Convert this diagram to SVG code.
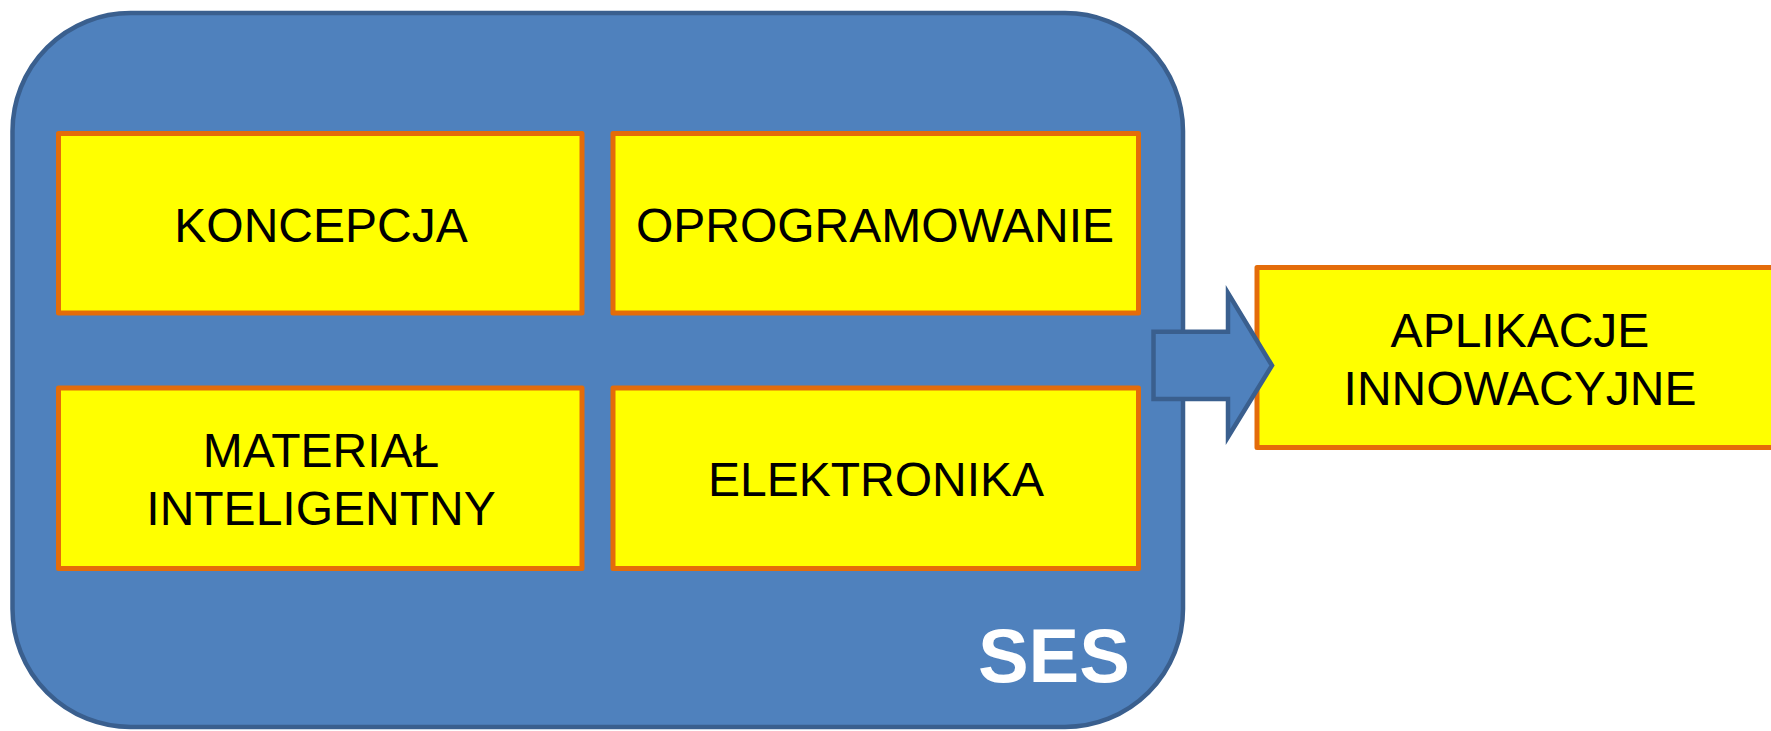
<svg xmlns="http://www.w3.org/2000/svg" width="1771" height="731" viewBox="0 0 1771 731">
  <style>
    .frame { fill: #4F81BD; stroke: #3A5F8E; stroke-width: 4.5; }
    .box { fill: #FFFF00; stroke: #E46C0A; stroke-width: 5; stroke-linejoin: round; }
    .label { font-family: "Liberation Sans", Arial, sans-serif; font-size: 48px; fill: #000000; text-anchor: middle; }
    .title { font-family: "Liberation Sans", Arial, sans-serif; font-size: 76px; font-weight: bold; fill: #FFFFFF; text-anchor: end; }
    .flow { fill: #4F81BD; stroke: #3A5F8E; stroke-width: 4.5; stroke-linejoin: miter; }
  </style>

  <!-- SES container -->
  <g id="ses">
    <rect class="frame" x="12.5" y="13" width="1170.5" height="714" rx="118" ry="118"/>
    <text class="title" x="1130" y="682">SES</text>
  </g>

  <g id="koncepcja">
    <rect class="box" x="58.5" y="133.5" width="523.5" height="179.5"/>
    <text class="label" x="321" y="242">KONCEPCJA</text>
  </g>

  <g id="oprogramowanie">
    <rect class="box" x="613" y="133.5" width="525.5" height="179.5"/>
    <text class="label" x="875" y="242">OPROGRAMOWANIE</text>
  </g>

  <g id="material">
    <rect class="box" x="58.5" y="388" width="523.5" height="180.5"/>
    <text class="label" x="321" y="467">MATERIAŁ</text>
    <text class="label" x="321" y="525">INTELIGENTNY</text>
  </g>

  <g id="elektronika">
    <rect class="box" x="613" y="388" width="525.5" height="180.5"/>
    <text class="label" x="876" y="496">ELEKTRONIKA</text>
  </g>

  <g id="aplikacje">
    <rect class="box" x="1257" y="267.5" width="540" height="180"/>
    <text class="label" x="1520" y="347">APLIKACJE</text>
    <text class="label" x="1520" y="405">INNOWACYJNE</text>
  </g>

  <!-- block arrow from SES to applications -->
  <g id="connectors">
    <polygon class="flow" points="1153.5,331.8 1228,331.8 1228,293 1272,365.5 1228,437 1228,399 1153.5,399"/>
  </g>
</svg>
